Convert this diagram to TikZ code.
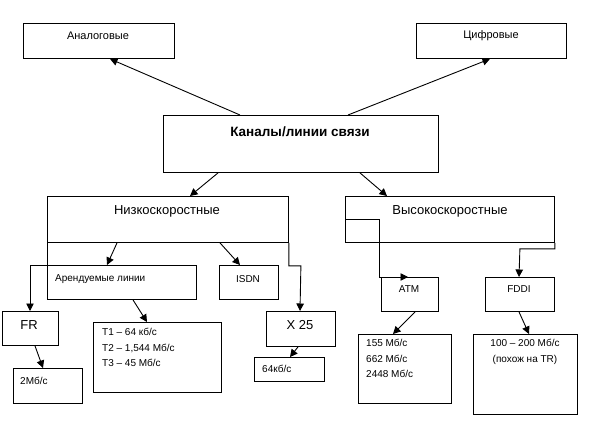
\documentclass[tikz,border=0pt]{standalone}
\usepackage{fontspec}
\setmainfont{Liberation Sans}
\usetikzlibrary{arrows.meta}
\begin{document}
\begin{tikzpicture}[x=1pt,y=-1pt,
  box/.style={draw=black,line width=0.9pt,inner sep=0pt,anchor=north west},
  txt/.style={inner sep=0pt,font=\fontsize{10}{15.5}\selectfont},
  toptxt/.style={inner sep=0pt,font=\fontsize{11}{13}\selectfont},
  midtxt/.style={inner sep=0pt,font=\fontsize{13}{15}\selectfont},
  arr/.style={line width=0.9pt,-{Triangle[length=7.5pt,width=7.5pt]}}]
\useasboundingbox[fill=white] (0,0) rectangle (589,439);
% boxes
\node[box,minimum width=151pt,minimum height=35pt] (an) at (23,23) {};
\node[box,minimum width=150pt,minimum height=35pt] (ci) at (416,23) {};
\node[box,minimum width=275pt,minimum height=57pt] (main) at (163,115) {};
\node[box,minimum width=241pt,minimum height=46pt] (nz) at (47,196) {};
\node[box,minimum width=209pt,minimum height=46pt] (vs) at (345,196) {};
\node[box,minimum width=149pt,minimum height=34pt] (ar) at (47,265) {};
\node[box,minimum width=59pt,minimum height=34pt] (isdn) at (219,265) {};
\node[box,minimum width=56pt,minimum height=34pt] (fr) at (2,311) {};
\node[box,minimum width=69pt,minimum height=35pt] (x25) at (266,311) {};
\node[box,minimum width=128pt,minimum height=70pt] (t1) at (93,322) {};
\node[box,minimum width=69pt,minimum height=35pt] (fr2) at (13,368) {};
\node[box,minimum width=70pt,minimum height=24pt] (x64) at (254,357) {};
\node[box,minimum width=57pt,minimum height=34pt] (atm) at (381,277) {};
\node[box,minimum width=69pt,minimum height=34pt] (fddi) at (485,277) {};
\node[box,minimum width=93pt,minimum height=69pt] (atmv) at (358,334) {};
\node[box,minimum width=104pt,minimum height=80pt] (fddiv) at (473,334) {};
% texts
\node[toptxt] (an-t) at (98,36) {Аналоговые};
\node[toptxt] (ci-t) at (491,36) {Цифровые};
\node[inner sep=0pt,font=\fontsize{13.5}{15}\selectfont\bfseries] (main-t) at (300,132) {Каналы/линии связи};
\node[midtxt] (nz-t) at (167,211) {Низкоскоростные};
\node[midtxt] (vs-t) at (450,211) {Высокоскоростные};
\node[txt,anchor=west] (ar-t) at (55,279) {Арендуемые линии};
\node[txt] (isdn-t) at (248,279) {ISDN};
\node[midtxt] (fr-t) at (29,325) {FR};
\node[midtxt] (x25-t) at (300,325) {X 25};
\node[txt,anchor=west] (fr2-t) at (20,381) {2Мб/с};
\node[txt,anchor=west] (x64-t) at (262,369) {64кб/с};
\node[txt] (atm-t) at (409,289) {ATM};
\node[txt] (fddi-t) at (519,289) {FDDI};
\node[txt,anchor=north west,align=left] (t1-t) at (102,328) {T1 – 64 кб/с\\T2 – 1,544 Мб/с\\T3 – 45 Мб/с};
\node[txt,anchor=north west,align=left] (atmv-t) at (366,339) {155 Мб/с\\662 Мб/с\\2448 Мб/с};
\node[txt,anchor=north,align=center] (fddiv-t) at (525,339) {100 – 200 Мб/с\\(похож на TR)};
% connectors
\draw[arr] ([xshift=77pt]main.north west) -- ([xshift=87pt]an.south west);
\draw[arr] ([xshift=185pt]main.north west) -- ([xshift=74pt]ci.south west);
\draw[arr] ([xshift=55pt]main.south west) -- ([xshift=143pt]nz.north west);
\draw[arr] ([xshift=197pt]main.south west) -- ([xshift=42pt]vs.north west);
\draw[arr] ([xshift=70pt]nz.south west) -- ([xshift=60pt]ar.north west);
\draw[arr] ([xshift=173pt]nz.south west) -- ([xshift=21pt]isdn.north west);
\draw[arr] (nz.south west) -- (ar.north west) -- ++(-17,0) -- ([xshift=28pt]fr.north west);
\draw[arr] (nz.south east) -- ++(0,23) -- ++(12,0) -- ([xshift=34pt]x25.north west);
\draw[arr] ([xshift=86pt]ar.south west) -- ([xshift=54pt]t1.north west);
\draw[arr] ([xshift=33pt]fr.south west) -- ([xshift=30pt]fr2.north west);
\draw[arr] ([xshift=32pt]x25.south west) -- ([xshift=36pt]x64.north west);
\draw[arr] ([yshift=-23pt]vs.north west) -- ++(34,0) |- ([xshift=27pt]atm.north west);
\draw[arr] (vs.south east) -- ++(0,6) -- ++(-35,0) -- ([xshift=34pt]fddi.north west);
\draw[arr] ([xshift=34pt]atm.south west) -- ([xshift=35pt]atmv.north west);
\draw[arr] ([xshift=34pt]fddi.south west) -- ([xshift=56pt]fddiv.north west);
\end{tikzpicture}
\end{document}
